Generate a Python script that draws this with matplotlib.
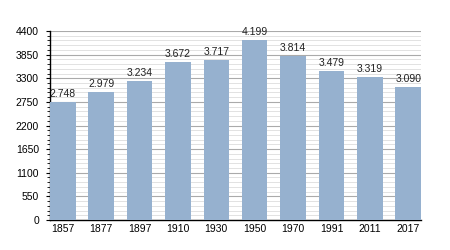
import matplotlib
matplotlib.use("Agg")
import matplotlib.pyplot as plt
from matplotlib.ticker import MultipleLocator

years = ["1857", "1877", "1897", "1910", "1930", "1950", "1970", "1991", "2011", "2017"]
population = [2748, 2979, 3234, 3672, 3717, 4199, 3814, 3479, 3319, 3090]
labels = ["2.748", "2.979", "3.234", "3.672", "3.717", "4.199", "3.814", "3.479", "3.319", "3.090"]

plt.rcParams['font.family'] = ['Liberation Sans', 'DejaVu Sans']

fig = plt.figure(figsize=(4.5, 2.5), dpi=100)
ax = fig.add_axes([50/450, 1-220/250, 371/450, 189/250])

bw = 0.666
x = list(range(len(years)))
ax.bar(x, population, width=bw, color="#96b1cf", zorder=3)
for xi, v, lab in zip(x, population, labels):
    ax.text(xi, v + 70, lab, ha="center", va="bottom", fontsize=7.5, color="#222222", zorder=4)

ax.set_xlim(-bw/2, len(years) - 1 + bw/2)
ax.set_ylim(0, 4400)
ax.yaxis.set_major_locator(MultipleLocator(550))
ax.yaxis.set_minor_locator(MultipleLocator(110))
ax.grid(axis="y", which="major", color="#aaaaaa", linewidth=0.8, zorder=0)
ax.grid(axis="y", which="minor", color="#dddddd", linewidth=0.6, zorder=0)
ax.set_xticks(x)
ax.set_xticklabels(years)
ax.tick_params(axis="x", length=0, labelsize=7.5, pad=3)
ax.tick_params(axis="y", which="major", length=3, labelsize=7.5, pad=5, direction="out")
ax.tick_params(axis="y", which="minor", length=2, direction="out")
for s in ["top", "right"]:
    ax.spines[s].set_visible(False)
ax.spines["left"].set_linewidth(1)
ax.spines["bottom"].set_linewidth(1)

fig.savefig("out.png", dpi=100)
